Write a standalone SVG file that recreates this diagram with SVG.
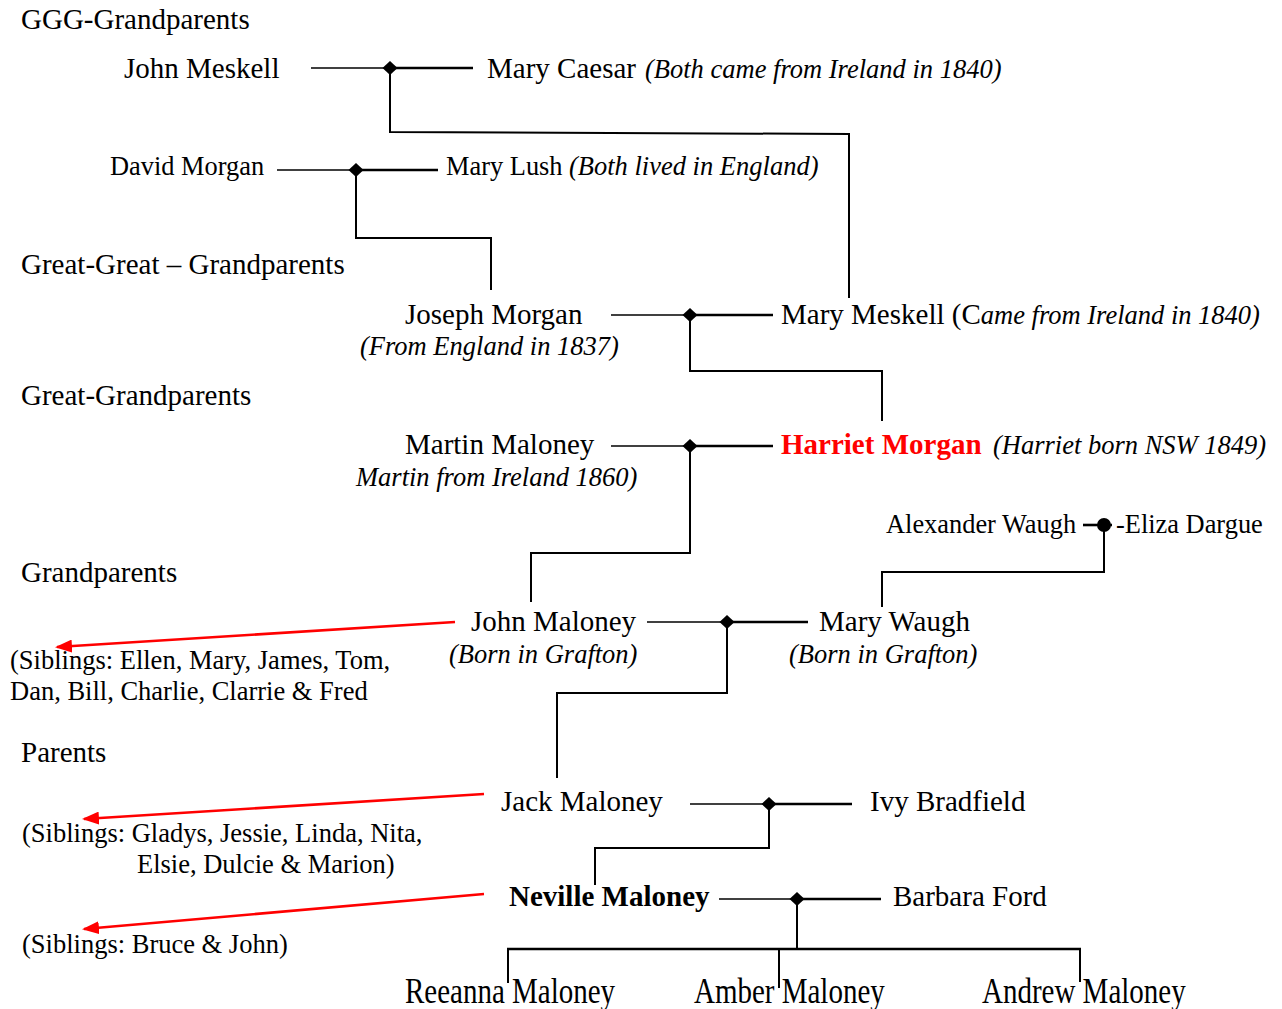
<svg xmlns="http://www.w3.org/2000/svg" width="1282" height="1009" viewBox="0 0 1282 1009">
<defs>
<style>
text{font-family:"Liberation Serif","Times New Roman",serif;fill:#000}
.n{font-size:29px}
.s{font-size:26.4px}
.i{font-style:italic;font-size:26.5px}
.r{font-size:26.5px}
.b{font-weight:bold}
.red{fill:#f00}
.ln{stroke:#000;stroke-width:2;fill:none}
.lt{stroke:#000;stroke-width:1.6;fill:none}
.lk{stroke:#000;stroke-width:2.6;fill:none}
.ar{stroke:#f00;stroke-width:2.5;fill:none}
</style>
<marker id="ah" markerWidth="17" markerHeight="13" refX="15" refY="6.5" orient="auto" markerUnits="userSpaceOnUse" viewBox="0 0 17 13">
<path d="M17,6.5 L0,0 L0,13 Z" fill="#f00"/>
</marker>
<path id="dm" d="M-7.5,0 L0,-7 L7.5,0 L0,7 Z" fill="#000"/>
</defs>
<rect width="1282" height="1009" fill="#fff"/>

<g id="headings">
<text class="n" x="21" y="29">GGG-Grandparents</text>
<text class="n" x="21" y="274">Great-Great – Grandparents</text>
<text class="n" x="21" y="405">Great-Grandparents</text>
<text class="n" x="21" y="582">Grandparents</text>
<text class="n" x="21" y="762">Parents</text>
</g>

<g id="john-meskell"><text class="n" x="124" y="78">John Meskell</text></g>
<g id="mary-caesar"><text class="n" x="487" y="78">Mary Caesar</text><text class="i" x="645" y="78">(Both came from Ireland in 1840)</text></g>
<g id="david-morgan"><text class="s" x="110" y="175">David Morgan</text></g>
<g id="mary-lush"><text class="s" x="446" y="175">Mary Lush</text><text class="i" x="569" y="175">(Both lived in England)</text></g>
<g id="joseph-morgan"><text class="n" x="405" y="324">Joseph Morgan</text><text class="i" x="360" y="355">(From England in 1837)</text></g>
<g id="mary-meskell"><text class="n" x="781" y="324">Mary Meskell (C<tspan class="i">ame from Ireland in 1840)</tspan></text></g>
<g id="martin-maloney"><text class="n" x="405" y="454">Martin Maloney</text><text class="i" x="356" y="486">Martin from Ireland 1860)</text></g>
<g id="harriet-morgan"><text class="n b red" x="781" y="454">Harriet Morgan</text><text class="i" x="993" y="454">(Harriet born NSW 1849)</text></g>
<g id="alexander-waugh"><text class="s" x="886" y="533">Alexander Waugh</text></g>
<g id="eliza-dargue"><text class="s" x="1116" y="533">-Eliza Dargue</text></g>
<g id="john-maloney"><text class="n" x="471" y="631">John Maloney</text><text class="i" x="449" y="663">(Born in Grafton)</text></g>
<g id="mary-waugh"><text class="n" x="819" y="631">Mary Waugh</text><text class="i" x="789" y="663">(Born in Grafton)</text></g>
<g id="siblings-john"><text class="r" x="10" y="669">(Siblings: Ellen, Mary, James, Tom,</text><text class="r" x="10" y="700">Dan, Bill, Charlie, Clarrie &amp; Fred</text></g>
<g id="jack-maloney"><text class="n" x="501" y="811">Jack Maloney</text></g>
<g id="ivy-bradfield"><text class="n" x="870" y="811">Ivy Bradfield</text></g>
<g id="siblings-jack"><text class="r" x="22" y="842">(Siblings: Gladys, Jessie, Linda, Nita,</text><text class="r" x="137" y="873">Elsie, Dulcie &amp; Marion)</text></g>
<g id="neville-maloney"><text class="n b" x="509" y="906">Neville Maloney</text></g>
<g id="barbara-ford"><text class="n" x="893" y="906">Barbara Ford</text></g>
<g id="siblings-neville"><text class="r" x="22" y="953">(Siblings: Bruce &amp; John)</text></g>
<g id="reeanna-maloney"><text class="n" transform="translate(405,1003) scale(1,1.2)">Reeanna Maloney</text></g>
<g id="amber-maloney"><text class="n" transform="translate(694,1003) scale(1,1.2)">Amber Maloney</text></g>
<g id="andrew-maloney"><text class="n" transform="translate(982,1003) scale(1,1.2)">Andrew Maloney</text></g>

<g id="connectors">
<path class="lt" d="M311,68 H390"/><path class="lk" d="M390,68 H473"/>
<path class="ln" d="M390,68 V132 L849,134 V298"/>
<use href="#dm" x="390" y="68"/>

<path class="lt" d="M277,170 H356"/><path class="lk" d="M356,170 H438"/>
<path class="ln" d="M356,170 V238 H491 V290"/>
<use href="#dm" x="356" y="170"/>

<path class="lt" d="M611,315 H690"/><path class="lk" d="M690,315 H773"/>
<path class="ln" d="M690,315 V371 H882 V421"/>
<use href="#dm" x="690" y="315"/>

<path class="lt" d="M611,446 H690"/><path class="lk" d="M690,446 H773"/>
<path class="ln" d="M690,446 V553 H531 V602"/>
<use href="#dm" x="690" y="446"/>

<path class="lk" d="M1083,525 H1112"/>
<path class="ln" d="M1104,525 V572 H882 V607"/>
<circle cx="1104" cy="525" r="7" fill="#000"/>

<path class="lt" d="M647,622 H727"/><path class="lk" d="M727,622 H808"/>
<path class="ln" d="M727,622 V693 H557 V778"/>
<use href="#dm" x="727" y="622"/>

<path class="lt" d="M690,804 H769"/><path class="lk" d="M769,804 H852"/>
<path class="ln" d="M769,804 V848 H595 V885"/>
<use href="#dm" x="769" y="804"/>

<path class="lt" d="M719,899 H797"/><path class="lk" d="M797,899 H881"/>
<path class="ln" d="M797,899 V949"/>
<path class="lk" d="M507,949 H1081"/>
<path class="ln" d="M508,949 V983 M779,949 V988 M1080,949 V982"/>
<use href="#dm" x="797" y="899"/>

<path class="ar" d="M455,622 L57,647" marker-end="url(#ah)"/>
<path class="ar" d="M484,794 L84,819" marker-end="url(#ah)"/>
<path class="ar" d="M484,894 L84,929" marker-end="url(#ah)"/>
</g>
</svg>
